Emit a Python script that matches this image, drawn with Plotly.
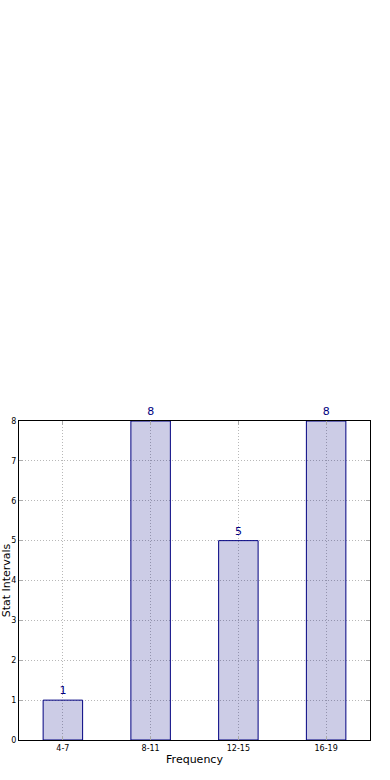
import plotly.graph_objects as go

categories = ["4-7", "8-11", "12-15", "16-19"]
values = [1, 8, 5, 8]
y_ticks = [0, 1, 2, 3, 4, 5, 6, 7, 8]

fig = go.Figure()
fig.add_trace(go.Bar(
    x=categories, y=values, width=0.45,
    marker=dict(color="rgba(0,0,128,0.2)", line=dict(color="#000080", width=1)),
    text=[str(v) for v in values], textposition="outside",
    textfont=dict(color="#000080", size=11, family="DejaVu Sans"),
    cliponaxis=False,
))

axis_common = dict(
    showline=True, linecolor="black", linewidth=1, mirror="ticks",
    showgrid=True, gridcolor="#b8b8b8", griddash="1px,2px", gridwidth=1,
    ticks="inside", ticklen=4, tickcolor="#aaaaaa",
    tickfont=dict(size=8, family="DejaVu Sans", color="black"),
    zeroline=False, automargin=False,
)

fig.update_layout(
    width=390, height=780,
    margin=dict(l=19, r=20, t=421, b=40),
    paper_bgcolor="white", plot_bgcolor="white",
    showlegend=False,
    font=dict(family="DejaVu Sans", color="black"),
    xaxis=dict(**axis_common, range=[-0.5, 3.5],
               title=dict(text="Frequency", font=dict(size=11), standoff=3)),
    yaxis=dict(**axis_common, range=[0, 8], tickvals=y_ticks,
               title=dict(text="Stat Intervals", font=dict(size=11), standoff=0)),
)

fig.write_html("out.html")
